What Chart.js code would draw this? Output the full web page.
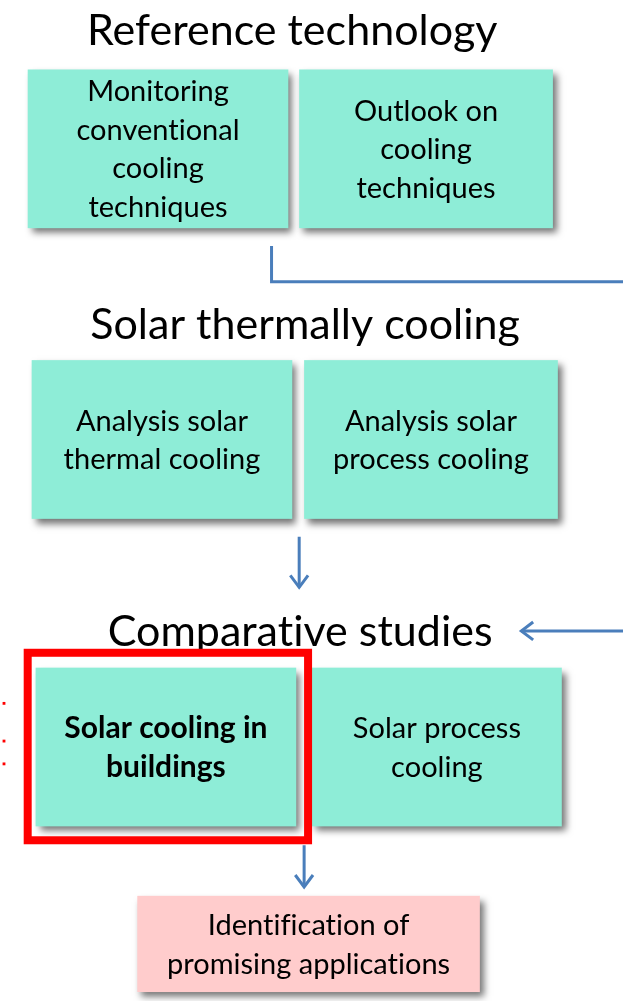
<!DOCTYPE html>
<html>
<head>
<meta charset="utf-8">
<script src="https://cdn.jsdelivr.net/npm/chart.js@4"></script>
<style>
body{margin:0;background:#fff}
#wrap{width:627px;height:1001px}
</style>
</head>
<body>
<div id="wrap"><canvas id="flow" width="627" height="1001"></canvas></div>
<script>
// section titles, centre x and baseline y
const titles = ["Reference technology", "Solar thermally cooling", "Comparative studies"]
const titleX = [292, 305, 300]
const titleY = [41, 338, 647]

// boxes
const boxText = [
  ["Monitoring", "conventional", "cooling", "techniques"],
  ["Outlook on", "cooling", "techniques"],
  ["Analysis solar", "thermal cooling"],
  ["Analysis solar", "process cooling"],
  ["Solar cooling in", "buildings"],
  ["Solar process", "cooling"],
  ["Identification of", "promising applications"]
]
const boxLeft = [24, 299, 28, 304, 32, 312, 135]
const boxRight = [288, 556, 292, 561, 296, 565, 482]
const boxTop = [66, 66, 359, 359, 669, 669, 899]
const boxBottom = [226, 226, 519, 519, 829, 829, 996]
const boxKind = ["task", "task", "task", "task", "focus", "task", "result"]

// connectors
const linkTop = [{x:271,y:244},{x:271,y:280},{x:627,y:280}]
const arrowDown1 = [{x:299,y:537},{x:299,y:588}]
const arrowHead1 = [{x:290,y:576},{x:299,y:588},{x:308,y:576}]
const arrowLeft = [{x:627,y:632},{x:524,y:632}]
const arrowHead2 = [{x:536,y:623},{x:524,y:632},{x:536,y:641}]
const arrowDown2 = [{x:304,y:848},{x:304,y:890}]
const arrowHead3 = [{x:295,y:878},{x:304,y:890},{x:313,y:878}]
const redMarks = [{x:0,y:705},{x:0,y:743},{x:0,y:766}]

// highlight frame around the focus box
const frame = {left:24, right:308, top:654, bottom:843}

const fills = {task:"#8eedd7", focus:"#8eedd7", result:"#ffcccc"}

const FONT = "Lato, 'Open Sans', sans-serif"

const diagram = {
  id: "diagram",
  beforeDatasetsDraw(chart){
    const ctx = chart.ctx
    const sx = chart.scales.x, sy = chart.scales.y
    ctx.save()
    ctx.letterSpacing = "0.01px"
    ctx.fillStyle = "#000"
    ctx.textAlign = "center"
    ctx.textBaseline = "alphabetic"
    ctx.font = "43px " + FONT
    titles.forEach((t,i)=>{
      ctx.fillText(t, sx.getPixelForValue(titleX[i]), sy.getPixelForValue(titleY[i]))
    })

    boxText.forEach((lines,i)=>{
      const x0 = sx.getPixelForValue(boxLeft[i]), x1 = sx.getPixelForValue(boxRight[i])
      const y0 = sy.getPixelForValue(boxTop[i]), y1 = sy.getPixelForValue(boxBottom[i])
      ctx.save()
      ctx.shadowColor = "rgba(0,0,0,0.55)"
      ctx.shadowBlur = 7
      ctx.shadowOffsetX = 4
      ctx.shadowOffsetY = 5
      ctx.fillStyle = fills[boxKind[i]]
      ctx.fillRect(x0, y0, x1-x0, y1-y0)
      ctx.restore()

      ctx.fillStyle = "#000"
      ctx.font = (boxKind[i]==="focus" ? "bold 30px " : "29px ") + FONT
      ctx.textBaseline = "middle"
      const lh = 38.5
      const cy = (y0+y1)/2 + 1
      lines.forEach((l,j)=>{
        ctx.fillText(l, (x0+x1)/2, cy + (j-(lines.length-1)/2)*lh)
      })
      ctx.textBaseline = "alphabetic"
    })

    ctx.strokeStyle = "#ff0000"
    ctx.lineWidth = 8
    const fx0 = sx.getPixelForValue(frame.left), fx1 = sx.getPixelForValue(frame.right)
    const fy0 = sy.getPixelForValue(frame.top), fy1 = sy.getPixelForValue(frame.bottom)
    ctx.strokeRect(fx0, fy0, fx1-fx0, fy1-fy0)
    ctx.restore()
  }
}

const blue = "#4a7ebb"
function connector(points){
  return {type:"line", data:points, borderColor:blue, borderWidth:3, pointRadius:0, fill:false, tension:0, borderJoinStyle:"miter"}
}

new Chart(document.getElementById("flow"), {
  type: "scatter",
  data: {
    datasets: [
      connector(linkTop),
      connector(arrowDown1),
      connector(arrowHead1),
      connector(arrowLeft),
      connector(arrowHead2),
      connector(arrowDown2),
      connector(arrowHead3),
      {type:"scatter", data:redMarks, pointStyle:"rect", pointRadius:2, backgroundColor:"#ff0000", borderWidth:0, clip:false}
    ]
  },
  options: {
    responsive: false,
    animation: false,
    layout: {padding: 0},
    plugins: {legend:{display:false}, tooltip:{enabled:false}},
    scales: {
      x: {type:"linear", min:0, max:627, display:false},
      y: {type:"linear", min:0, max:1001, reverse:true, display:false}
    }
  },
  plugins: [diagram]
})
</script>
</body>
</html>
